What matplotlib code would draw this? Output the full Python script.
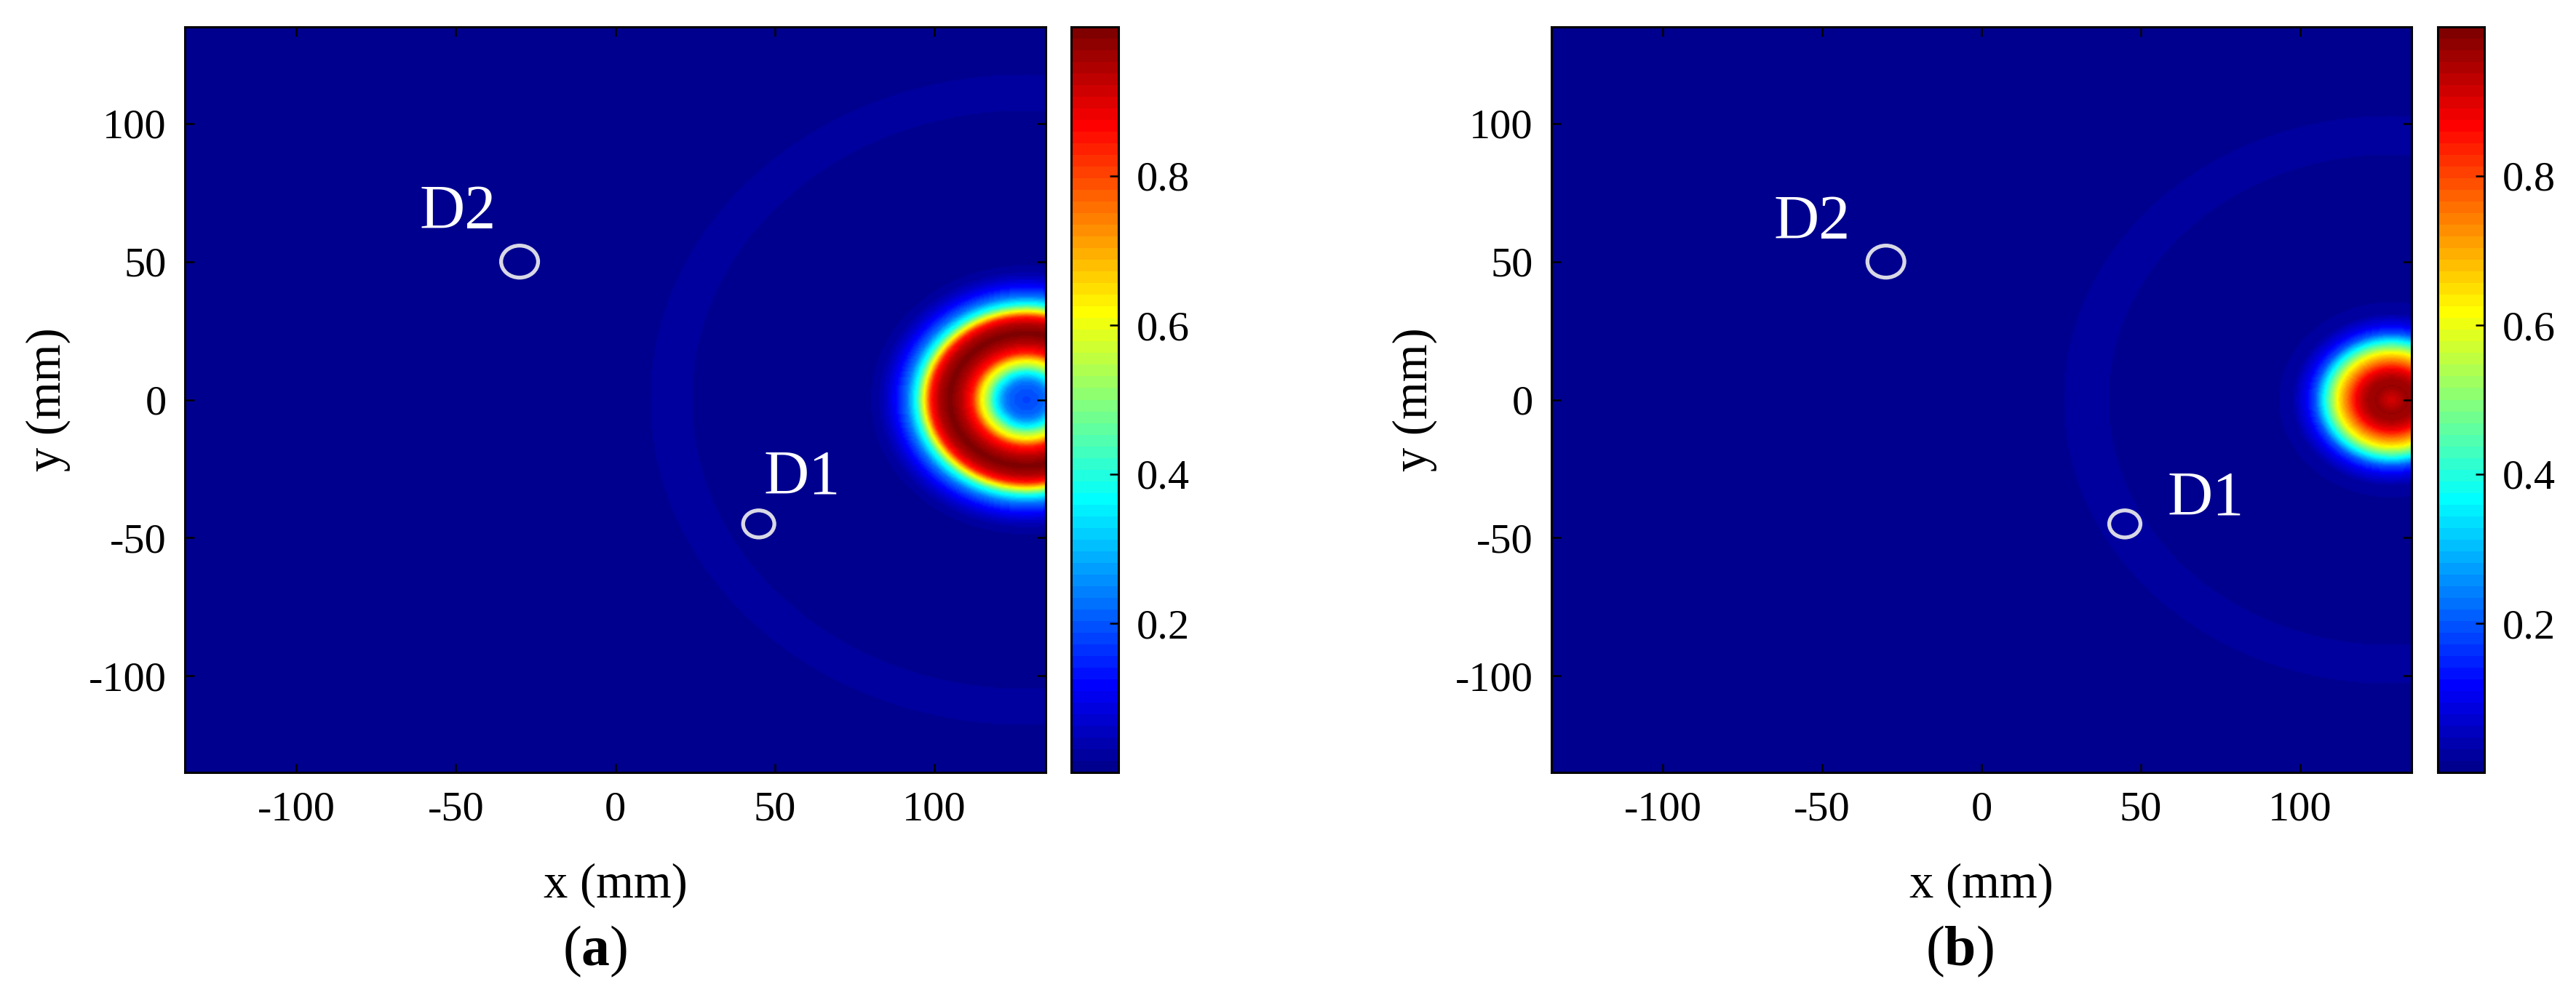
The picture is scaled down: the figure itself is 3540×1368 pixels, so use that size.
import numpy as np
import matplotlib
matplotlib.use("Agg")
import matplotlib.pyplot as plt
from matplotlib.colors import ListedColormap
from matplotlib.patches import Circle

# ---------------- data ----------------
x_ticks = [-100, -50, 0, 50, 100]
x_tick_labels = ["-100", "-50", "0", "50", "100"]
y_ticks = [-100, -50, 0, 50, 100]
y_tick_labels = ["-100", "-50", "0", "50", "100"]
cbar_ticks = [0.2, 0.4, 0.6, 0.8]
cbar_tick_labels = ["0.2", "0.4", "0.6", "0.8"]
panel_labels = ["a", "b"]

# source (hot spot) centre in mm
source_x = [129.0, 129.0]
source_y = [0.0, 0.0]

# radial amplitude profile of the hot spot, panel (a): distance (mm) -> amplitude
a_profile_r = [0, 5, 7, 10, 12, 14.5, 17, 20.5, 24, 27.5, 30, 32, 34.4, 37.5, 41, 44, 47, 55]
a_profile_v = [0.18, 0.21, 0.25, 0.38, 0.52, 0.65, 0.84, 0.94, 1.0, 0.94, 0.84, 0.63, 0.40, 0.23, 0.12, 0.06, 0.02, 0.0]
# radial amplitude profile of the hot spot, panel (b)
b_profile_r = [0, 2, 5, 8, 11, 14, 17, 19, 21, 24, 27, 31, 40]
b_profile_v = [0.90, 0.93, 0.97, 0.95, 0.88, 0.75, 0.62, 0.50, 0.38, 0.20, 0.10, 0.03, 0.0]

# faint outer wave front (annulus) around the source
front_inner = [105.0, 89.0]
front_outer = [118.0, 103.0]
front_level = [0.025, 0.025]

# defects
defect_names = ["D1", "D2"]
defect_x = [45.0, -30.0]
defect_y = [-45.0, 50.0]
defect_radius = [4.9, 5.8]

# ---------------- layout ----------------
W, H = 3540, 1368
DPI = 100
fig = plt.figure(figsize=(W / DPI, H / DPI), dpi=DPI)
plt.rcParams["font.family"] = ["Liberation Serif", "DejaVu Serif"]
plt.rcParams["mathtext.fontset"] = "custom"
plt.rcParams["mathtext.rm"] = "Liberation Serif"
plt.rcParams["mathtext.bf"] = "Liberation Serif:bold"


def px_rect(x0, y0, x1, y1):
    return [x0 / W, 1 - y1 / H, (x1 - x0) / W, (y1 - y0) / H]


ax_rects = [px_rect(254, 37, 1437, 1062), px_rect(2132, 37, 3314, 1062)]
cb_rects = [px_rect(1472, 37, 1537, 1062), px_rect(3350, 37, 3414, 1062)]
label_pos = [
    {"D1": (46.5, -34.0), "D2": (-61.5, 62.0)},
    {"D1": (58.4, -41.7), "D2": (-65.3, 58.3)},
]
panel_label_x = [818, 2693]


def matlab_jet(m=64):
    n = int(np.ceil(m / 4))
    u = np.concatenate([np.arange(1, n + 1) / n, np.ones(n - 1), np.arange(n, 0, -1) / n])
    g = int(np.ceil(n / 2)) - (1 if m % 4 == 1 else 0) + np.arange(1, len(u) + 1)
    r = g + n
    b = g - n
    g = g[g <= m]
    r = r[r <= m]
    b = b[b >= 1]
    J = np.zeros((m, 3))
    J[r - 1, 0] = u[: len(r)]
    J[g - 1, 1] = u[: len(g)]
    J[b - 1, 2] = u[len(u) - len(b):]
    return ListedColormap(J)


cmap = matlab_jet(64)

grid = np.linspace(-135, 135, 541)
XX, YY = np.meshgrid(grid, grid)
profiles = [(a_profile_r, a_profile_v), (b_profile_r, b_profile_v)]

edge_lw = 2.2
for i in range(2):
    ax = fig.add_axes(ax_rects[i])
    R = np.hypot(XX - source_x[i], YY - source_y[i])
    field = np.interp(R, profiles[i][0], profiles[i][1], right=0.0)
    ring = (R >= front_inner[i]) & (R <= front_outer[i])
    field = np.where(ring, np.maximum(field, front_level[i]), field)
    im = ax.imshow(field, origin="lower", extent=[-135, 135, -135, 135],
                   cmap=cmap, vmin=0, vmax=1, aspect="auto", interpolation="bilinear")
    for k, name in enumerate(defect_names):
        ax.add_patch(Circle((defect_x[k], defect_y[k]), defect_radius[k], fill=False,
                            edgecolor="#d8d8e6", linewidth=3.8))
        tx, ty = label_pos[i][name]
        ax.text(tx, ty, name, color="white", fontsize=62, ha="left", va="baseline")
    ax.set_xlim(-135, 135)
    ax.set_ylim(-135, 135)
    ax.set_xticks(x_ticks)
    ax.set_xticklabels(x_tick_labels)
    ax.set_yticks(y_ticks)
    ax.set_yticklabels(y_tick_labels)
    ax.tick_params(direction="in", length=9, width=1.8, top=True, right=True,
                   labelsize=42, pad=18, colors="black")
    for s in ax.spines.values():
        s.set_linewidth(edge_lw)
    ax.set_xlabel("x (mm)", fontsize=48)
    ax.set_ylabel("y (mm)", fontsize=48)
    ax.xaxis.set_label_coords(0.5, -0.151)
    ax.xaxis.label.set_va("center")
    ax.yaxis.set_label_coords(-0.159, 0.5)
    ax.yaxis.label.set_va("center")

    cax = fig.add_axes(cb_rects[i])
    cb = fig.colorbar(im, cax=cax, ticks=cbar_ticks)
    cb.ax.set_yticklabels(cbar_tick_labels)
    cb.ax.tick_params(direction="in", length=9, width=1.8, labelsize=42, pad=18)
    cb.outline.set_linewidth(edge_lw)

    fig.text(panel_label_x[i] / W, 1 - 1308 / H, r"($\mathbf{%s}$)" % panel_labels[i],
             fontsize=56, ha="center", va="center")

fig.savefig("out.png", dpi=DPI)
